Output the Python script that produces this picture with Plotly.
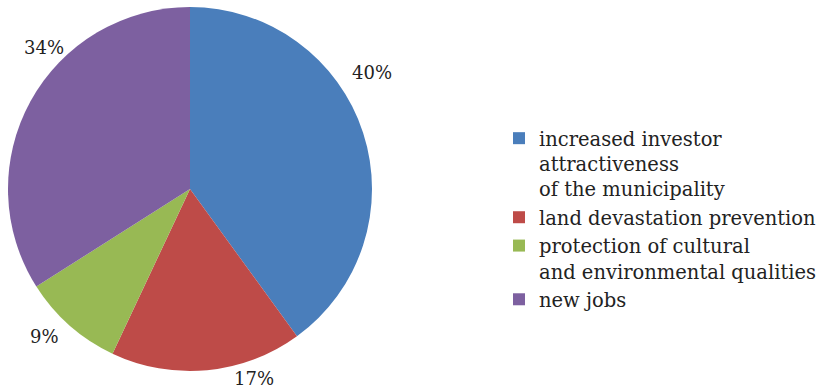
import plotly.graph_objects as go

categories = ["increased investor<br>attractiveness<br>of the municipality",
              "land devastation prevention",
              "protection of cultural<br>and environmental qualities",
              "new jobs"]
values = [40, 17, 9, 34]
colors = ["#4A7EBB", "#BE4B48", "#98B954", "#7D60A0"]

W, H = 821, 392
# label placement (pixel centres, as in the reference's best-fit layout)
label_px = [(372, 72), (254, 378), (44, 336), (44, 47)]

FONT = "DejaVu Serif"
fig = go.Figure(go.Pie(
    labels=categories, values=values, sort=False, direction="clockwise", rotation=0,
    marker=dict(colors=colors, line=dict(width=0)),
    textinfo="none", hoverinfo="label+percent",
    domain=dict(x=[8/W, 372/W], y=[(H-371)/H, (H-7)/H]),
    showlegend=True,
))
for v, (px, py) in zip(values, label_px):
    fig.add_annotation(x=px/W, y=1-py/H, xref="paper", yref="paper",
                       text=f"{v}%", showarrow=False,
                       xanchor="center", yanchor="middle",
                       font=dict(family=FONT, size=18, color="#222"))
fig.update_layout(
    width=W, height=H, margin=dict(l=0, r=0, t=0, b=0, autoexpand=False),
    paper_bgcolor="white", plot_bgcolor="white",
    font=dict(family=FONT, size=19.5, color="#222"),
    legend=dict(x=499/W, y=1-219/H, xanchor="left", yanchor="middle",
                valign="top", itemsizing="constant",
                font=dict(family=FONT, size=19.5, color="#222")),
)
fig.write_html("out.html")
